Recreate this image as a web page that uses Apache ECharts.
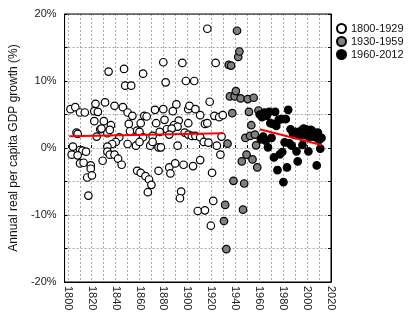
<!DOCTYPE html>
<html><head><meta charset="utf-8">
<script src="https://cdn.jsdelivr.net/npm/echarts@6/dist/echarts.min.js"></script>
<style>html,body{margin:0;padding:0;background:#fff}#c{width:415px;height:330px}</style>
</head><body><div id="c"></div>
<script>
// 1800-1929 (year, growth %)
const early = [
[1916,17.8],[1879,12.8],[1895,12.7],[1923,12.7],[1833,11.4],[1846,11.8],[1862,11.1],[1881,9.8],[1898,10.0],[1905,10.0],[1847,9.3],[1852,9.3],
[1801,5.8],[1805,6.1],[1809,5.3],[1813,5.3],[1822,6.6],[1821,5.5],[1824,5.4],[1830,6.8],[1838,6.3],[1845,6.1],[1849,5.3],[1853,4.8],[1863,4.8],[1865,4.7],[1872,5.7],[1879,5.8],[1890,6.5],[1887,5.5],[1900,5.8],[1901,6.3],[1906,5.8],[1910,4.9],[1918,6.9],[1922,4.8],[1926,4.6],[1929,4.9],
[1821,4.0],[1829,4.0],[1835,3.4],[1826,2.8],[1827,2.9],[1850,3.6],[1860,3.7],[1873,3.7],[1880,4.2],[1892,4.1],[1900,3.7],[1914,3.6],[1916,3.7],[1888,3.4],[1891,3.2],
[1806,2.3],[1807,2.1],[1823,1.7],[1851,2.5],[1857,2.6],[1859,2.4],[1862,1.6],[1870,1.8],[1876,2.4],[1882,2.8],[1886,2.9],[1884,2.0],[1897,2.3],[1900,2.0],[1903,1.8],[1906,1.8],[1910,1.6],[1913,0.9],[1917,0.8],[1928,1.7],[1832,2.2],[1834,2.7],[1842,1.6],
[1839,0.9],[1836,0.6],[1832,0.2],[1849,0.6],[1856,0.35],[1859,0.9],[1868,0.35],[1870,0.9],[1875,0.1],[1877,0.1],[1891,0.35],[1924,0.35],[1803,0.2],
[1927,-1.0],[1802,-1.0],[1809,-0.3],[1811,-0.4],[1814,-0.55],[1807,-1.1],
[1809,-2.3],[1812,-2.2],[1818,-2.6],[1818,-3.1],[1815,-4.4],[1819,-4.1],[1816,-7.1],[1828,-1.9],[1832,-0.55],[1834,-1.0],[1838,-1.0],[1841,-1.6],[1844,-2.5],
[1857,-3.4],[1860,-3.7],[1864,-4.2],[1867,-4.7],[1869,-5.5],[1866,-6.6],[1875,-3.4],[1884,-2.9],[1885,-3.8],[1889,-2.3],[1896,-2.5],[1894,-6.5],[1893,-7.5],
[1904,-2.7],[1910,-1.8],[1908,-9.4],[1914,-9.3],[1920,-3.7],[1921,-7.9],[1919,-11.6]
];
// 1930-1959
const midYears = [1930,1931,1932,1933,1934,1935,1936,1937,1938,1939,1940,1941,1942,1943,1944,1945,1946,1947,1948,1949,1950,1951,1952,1953,1954,1955,1956,1957,1958,1959];
const midValues = [-10.9,-8.5,-15.1,0.65,12.4,7.7,12.3,5.2,-4.9,7.7,8.5,17.5,13.6,14.4,7.4,-2.0,-9.2,-5.3,1.5,-1.0,7.3,5.4,1.8,3.4,-1.7,7.5,2.0,0.4,-2.9,5.6];
// 1960-2012
const lateYears = [];
for (let y = 1960; y <= 2012; y++) lateYears.push(y);
const lateValues = [5.0,1.3,4.6,1.7,5.3,1.1,4.8,0.1,5.4,3.7,1.5,3.6,-1.4,5.4,3.3,-3.3,4.2,-0.95,4.3,-0.6,-5.1,0.85,4.3,-2.9,5.7,0.7,2.8,0.35,2.2,2.0,2.4,-0.5,-2.0,2.3,1.8,2.6,0.45,2.9,1.9,2.8,1.9,-0.5,1.6,2.7,2.6,2.0,1.7,1.6,-2.6,2.3,1.2,-0.1,1.5];
// trend lines
const trendEarly = [[1800,1.75],[1929,2.2]];
const trendLate = [[1960,2.8],[2012,0.45]];
const legendNames = ['1800-1929','1930-1959','1960-2012'];

const font = 'Liberation Sans, Arial, sans-serif';
const L = 63, R = 84, T = 14, B = 48;
const xMin = 1796, xMax = 2020;
const plotW = 415 - L - R;
const L2 = L + (1800 - xMin) * plotW / (xMax - xMin);

const chart = echarts.init(document.getElementById('c'), null, {renderer:'canvas'});
const symStyle = (fill) => ({color: fill, borderColor:'#000', borderWidth:1.2, opacity:1});
const gridLine = {show:true, lineStyle:{color:'#a8a8a8', type:[2,2], width:1}};
chart.setOption({
  animation:false,
  backgroundColor:'#fff',
  grid:[
    {left:L, right:R, top:T, bottom:B, show:true, borderColor:'#000', borderWidth:1, backgroundColor:'transparent', z:3},
    {left:L2, right:R, top:T, bottom:B, show:false}
  ],
  legend:{
    data:legendNames, orient:'vertical', left:331, top:17, itemGap:0,
    itemWidth:9, itemHeight:9, icon:'circle',
    textStyle:{fontFamily:font, fontSize:11, color:'#111', lineHeight:13}
  },
  xAxis:[
    {type:'value', gridIndex:0, min:xMin, max:xMax, axisLine:{show:true, onZero:false, lineStyle:{color:'#000'}},
     axisTick:{show:false}, axisLabel:{show:false}, splitLine:{show:false}},
    {type:'value', gridIndex:1, min:1800, max:2020, interval:10,
     axisLine:{show:false}, axisTick:{show:true, inside:true, length:3, lineStyle:{color:'#000'}},
     axisLabel:{rotate:-90, margin:4, fontFamily:font, fontSize:11, color:'#222', showMinLabel:true, showMaxLabel:true,
       formatter:v => (v % 20 === 0 ? String(v) : '')},
     splitLine:gridLine}
  ],
  yAxis:[
    {type:'value', gridIndex:0, min:-20, max:20, interval:5,
     axisLine:{show:true, onZero:false, lineStyle:{color:'#000'}},
     axisTick:{show:true, inside:true, length:3, lineStyle:{color:'#000'}},
     axisLabel:{margin:8, fontFamily:font, fontSize:11, color:'#222', formatter:v => (v % 10 === 0 ? v + '%' : '')},
     splitLine:gridLine,
     name:'Annual real per capita GDP growth (%)', nameLocation:'middle', nameGap:41,
     nameTextStyle:{fontFamily:font, fontSize:12, color:'#111'}},
    {type:'value', gridIndex:1, min:-20, max:20, show:false},
    {type:'value', gridIndex:0, min:-20, max:20, interval:5, position:'right',
     axisLine:{show:true, lineStyle:{color:'#000'}}, axisTick:{show:true, inside:true, length:3, lineStyle:{color:'#000'}},
     axisLabel:{show:false}, splitLine:{show:false}}
  ],
  series:[
    {name:legendNames[0], type:'scatter', xAxisIndex:0, yAxisIndex:0, symbol:'circle', symbolSize:7.5,
     itemStyle:symStyle('#fff'), data:early, z:3},
    {name:legendNames[1], type:'scatter', xAxisIndex:0, yAxisIndex:0, symbol:'circle', symbolSize:7.5,
     itemStyle:symStyle('#808080'), data:midYears.map((y,i)=>[y, midValues[i]]), z:3},
    {name:legendNames[2], type:'scatter', xAxisIndex:0, yAxisIndex:0, symbol:'circle', symbolSize:7.5,
     itemStyle:symStyle('#000'), data:lateYears.map((y,i)=>[y, lateValues[i]]), z:3},
    {type:'line', xAxisIndex:0, yAxisIndex:0, data:trendEarly, showSymbol:false, symbol:'none',
     lineStyle:{color:'#f00', width:2}, z:5, silent:true},
    {type:'line', xAxisIndex:0, yAxisIndex:0, data:trendLate, showSymbol:false, symbol:'none',
     lineStyle:{color:'#f00', width:2}, z:5, silent:true}
  ]
});
</script></body></html>
